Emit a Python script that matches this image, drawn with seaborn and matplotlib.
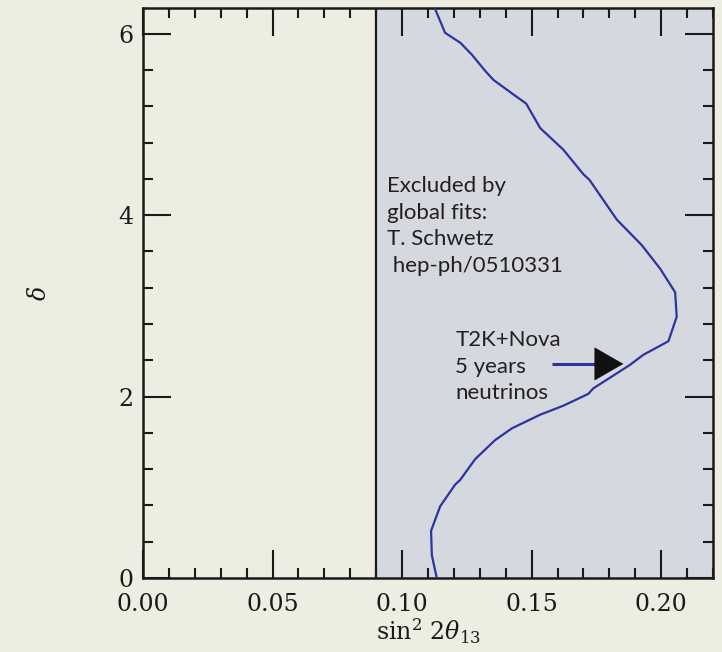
import numpy as np
import matplotlib
matplotlib.use("Agg")
import matplotlib.pyplot as plt
import seaborn as sns
from matplotlib.ticker import MultipleLocator, FormatStrFormatter

# Sensitivity contour for T2K+Nova, 5 years of neutrino running
sin2_2theta13 = [0.1128, 0.1166, 0.1225, 0.1269, 0.1321, 0.1353, 0.1430, 0.1479,
                 0.1533, 0.1623, 0.1700, 0.1723, 0.1829, 0.1925, 0.1996, 0.2054,
                 0.2060, 0.2028, 0.1931, 0.1880, 0.1738, 0.1719, 0.1623, 0.1533,
                 0.1424, 0.1359, 0.1282, 0.1224, 0.1205, 0.1147, 0.1112, 0.1115,
                 0.1134]
delta_cp = [6.27, 6.01, 5.90, 5.77, 5.59, 5.49, 5.33, 5.23,
            4.96, 4.72, 4.45, 4.39, 3.95, 3.67, 3.41, 3.15,
            2.88, 2.61, 2.46, 2.35, 2.09, 2.03, 1.90, 1.80,
            1.65, 1.52, 1.31, 1.08, 1.03, 0.79, 0.52, 0.25,
            0.0]

# Region excluded by global fits
excluded_from = 0.09
x_max = 0.22
y_max = 2 * np.pi

# Arrow pointing at the contour
arrow_tail = (0.1577, 2.36)
arrow_head_base = (0.1748, 2.36)
arrow_tip = (0.1854, 2.36)

x_ticks = [0.00, 0.05, 0.10, 0.15, 0.20]
y_ticks = [0, 2, 4, 6]

bg = "#ededE1"
shade = "#d5d8de"
curve_color = "#2c349f"

sns.set_style("ticks")
plt.rcParams["font.family"] = ["DejaVu Serif"]
plt.rcParams["mathtext.fontset"] = "dejavuserif"

fig = plt.figure(figsize=(7.22, 6.52), dpi=100, facecolor=bg)
ax = fig.add_axes([0.198, 0.1135, 0.7895, 0.8742])
ax.set_facecolor(bg)

ax.axvspan(excluded_from, x_max, facecolor=shade, edgecolor="none", zorder=0)
ax.axvline(excluded_from, color="#1a1a1a", lw=1.6, zorder=1)

sns.lineplot(x=sin2_2theta13, y=delta_cp, sort=False, estimator=None,
             color=curve_color, lw=1.6, ax=ax, zorder=3)

# Arrow: blue shaft with a black head
ax.plot([arrow_tail[0], arrow_head_base[0]], [arrow_tail[1], arrow_head_base[1]],
        color=curve_color, lw=2.2, solid_capstyle="butt", zorder=4)
ax.annotate("", xy=arrow_tip, xytext=arrow_head_base,
            arrowprops=dict(arrowstyle="-|>,head_length=2.0,head_width=1.15",
                            color="#111111", lw=0.5, mutation_scale=10,
                            shrinkA=0, shrinkB=0),
            zorder=5)

text_font = ["Lato", "DejaVu Sans"]
ax.text(0.0943, 3.88, "Excluded by\nglobal fits:\nT. Schwetz\n hep-ph/0510331",
        family=text_font, fontsize=16, color="#231f20", ha="left", va="center",
        linespacing=1.42, zorder=6)
ax.text(0.1205, 2.33, "T2K+Nova\n5 years\nneutrinos",
        family=text_font, fontsize=16, color="#231f20", ha="left", va="center",
        linespacing=1.42, zorder=6)

ax.set_xlim(0, x_max)
ax.set_ylim(0, y_max)
ax.set_xticks(x_ticks)
ax.set_yticks(y_ticks)
ax.xaxis.set_minor_locator(MultipleLocator(0.01))
ax.yaxis.set_minor_locator(MultipleLocator(0.4))
ax.xaxis.set_major_formatter(FormatStrFormatter("%.2f"))
ax.tick_params(which="both", direction="in", top=True, right=True,
               colors="#1a1a1a", labelcolor="#1a1a1a")
ax.tick_params(which="major", length=20, width=1.5, labelsize=17, pad=7)
ax.tick_params(which="minor", length=7, width=1.5)
ax.tick_params(axis="x", which="major", pad=11)

for sp in ax.spines.values():
    sp.set_linewidth(1.8)
    sp.set_color("#1a1a1a")
    sp.set_visible(True)

ax.set_xlabel(r"$\mathrm{sin}^2\ 2\theta_{13}$", fontsize=17, labelpad=0, color="#1a1a1a")
ax.set_ylabel(r"$\delta$", fontsize=17, labelpad=48, color="#1a1a1a")

fig.savefig("out.png", dpi=100, facecolor=bg)
